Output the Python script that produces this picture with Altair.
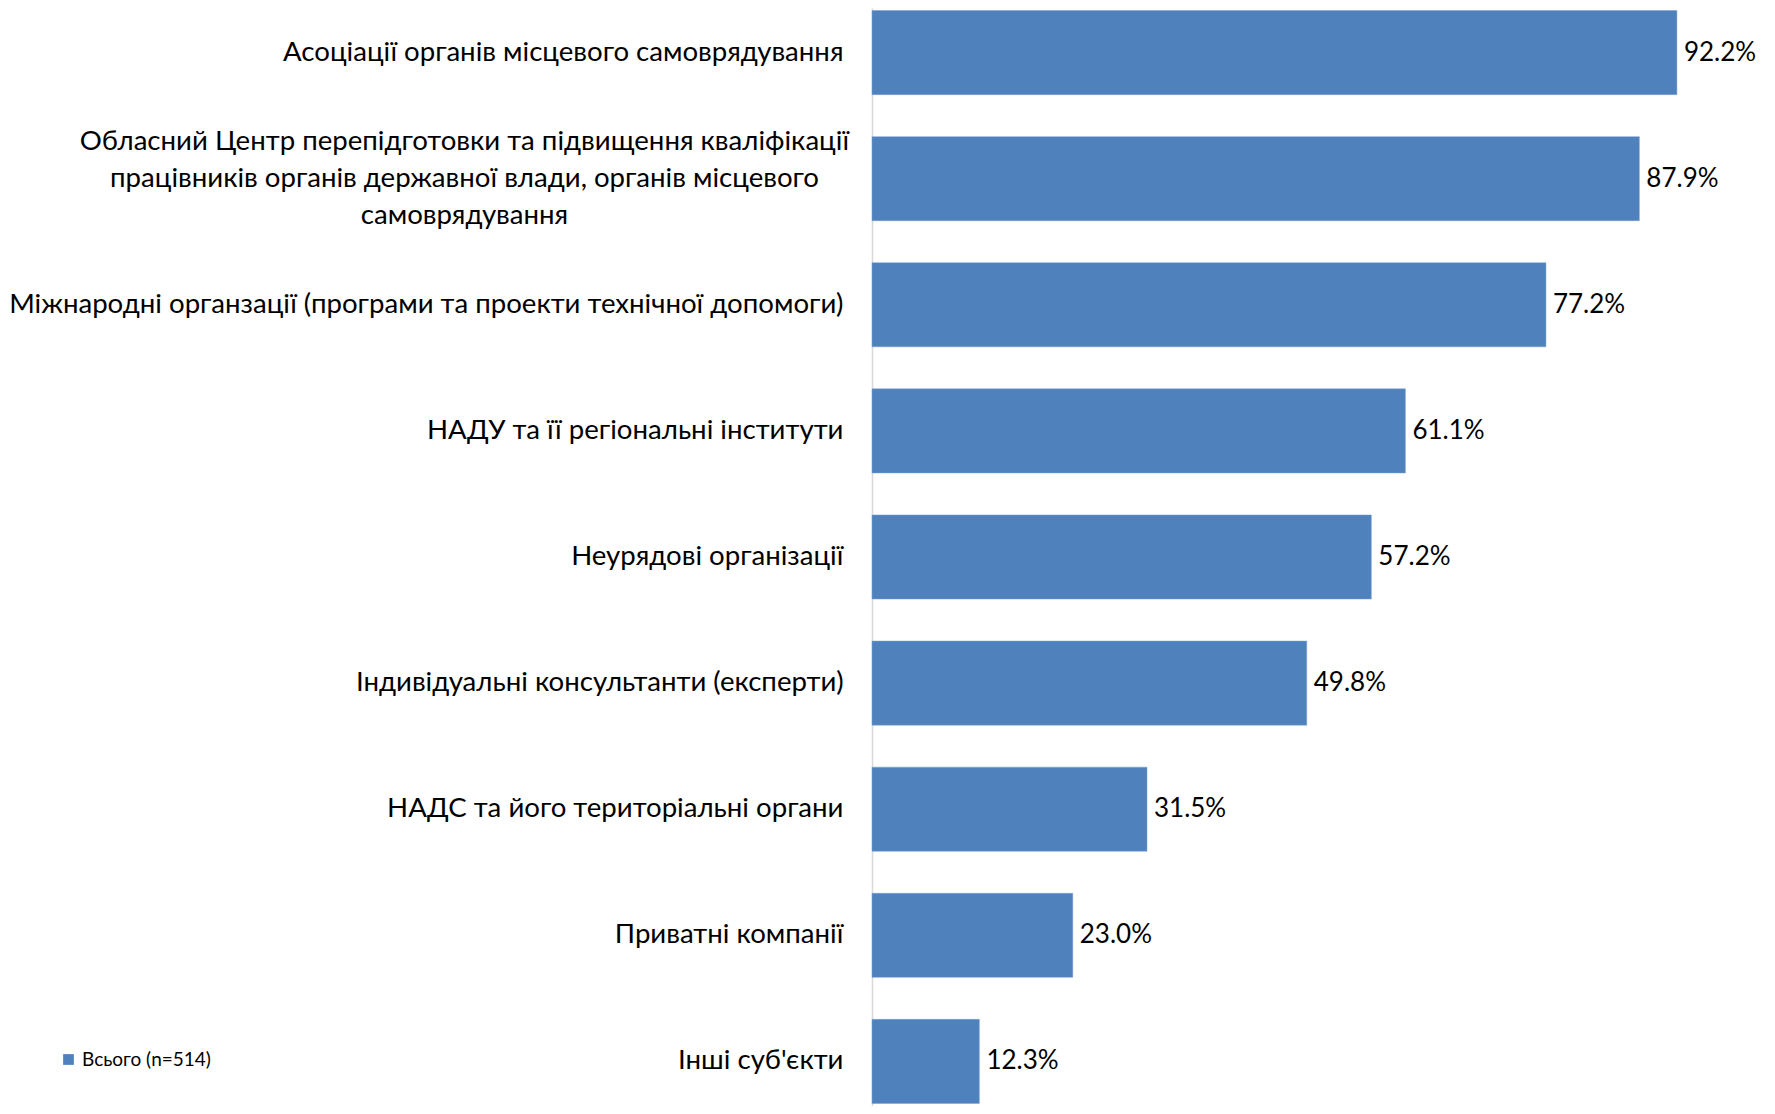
import altair as alt
import pandas as pd

categories = [
    "Асоціації органів місцевого самоврядування",
    "Обласний Центр перепідготовки та підвищення кваліфікації|працівників органів державної влади, органів місцевого|самоврядування",
    "Міжнародні органзації (програми та проекти технічної допомоги)",
    "НАДУ та її регіональні інститути",
    "Неурядові організації",
    "Індивідуальні консультанти (експерти)",
    "НАДС та його територіальні органи",
    "Приватні компанії",
    "Інші суб'єкти",
]
values = [92.2, 87.9, 77.2, 61.1, 57.2, 49.8, 31.5, 23.0, 12.3]
series_name = "Всього (n=514)"

df = pd.DataFrame({"category": categories, "value": values, "series": [series_name] * len(values)})

FONT = "Lato"
BLUE = "#4f81bd"
MULTI = "indexof(datum.label, '|') >= 0"

y_enc = alt.Y(
    "category:N",
    sort=categories,
    title=None,
    scale=alt.Scale(paddingInner=0.333, paddingOuter=0.02),
    axis=alt.Axis(
        labelExpr="split(datum.label, '|')",
        labelAlign={"condition": {"test": MULTI, "value": "center"}, "value": "right"},
        labelPadding={"condition": {"test": MULTI, "value": 408}, "value": 29},
        labelOffset={"condition": {"test": MULTI, "value": -37}, "value": 0},
        labelFont=FONT,
        labelFontSize=27.6,
        labelColor="#000000",
        labelLineHeight=37,
        labelLimit=1000,
        ticks=False,
        tickSize=0,
        domainColor="#d9d9d9",
        domainWidth=1.5,
        grid=False,
    ),
)

x_enc = alt.X("value:Q", axis=None, scale=alt.Scale(domain=[0, 100], nice=False, zero=True))

bars = alt.Chart(df).mark_bar(stroke="#7aa0d0", strokeWidth=0.5).encode(
    y=y_enc,
    x=x_enc,
    color=alt.Color(
        "series:N",
        scale=alt.Scale(range=[BLUE]),
        legend=alt.Legend(
            orient="none",
            legendX=-813,
            legendY=1042,
            title=None,
            symbolType="square",
            symbolSize=115,
            symbolStrokeWidth=0,
            labelFont=FONT,
            labelFontSize=19,
            labelColor="#000000",
        ),
    ),
)

labels = alt.Chart(df).transform_calculate(
    lbl="format(datum.value, '.1f') + '%'"
).mark_text(align="left", baseline="middle", dx=7, font=FONT, fontSize=26, color="#000000").encode(
    y=alt.Y("category:N", sort=categories),
    x=x_enc,
    text="lbl:N",
)

chart = (
    alt.layer(bars, labels)
    .properties(width=873, height=1098, padding=0, background="#ffffff")
    .configure_view(strokeWidth=0, stroke="transparent")
)

chart.save("out.html", embed_options={"renderer": "svg", "actions": False})
